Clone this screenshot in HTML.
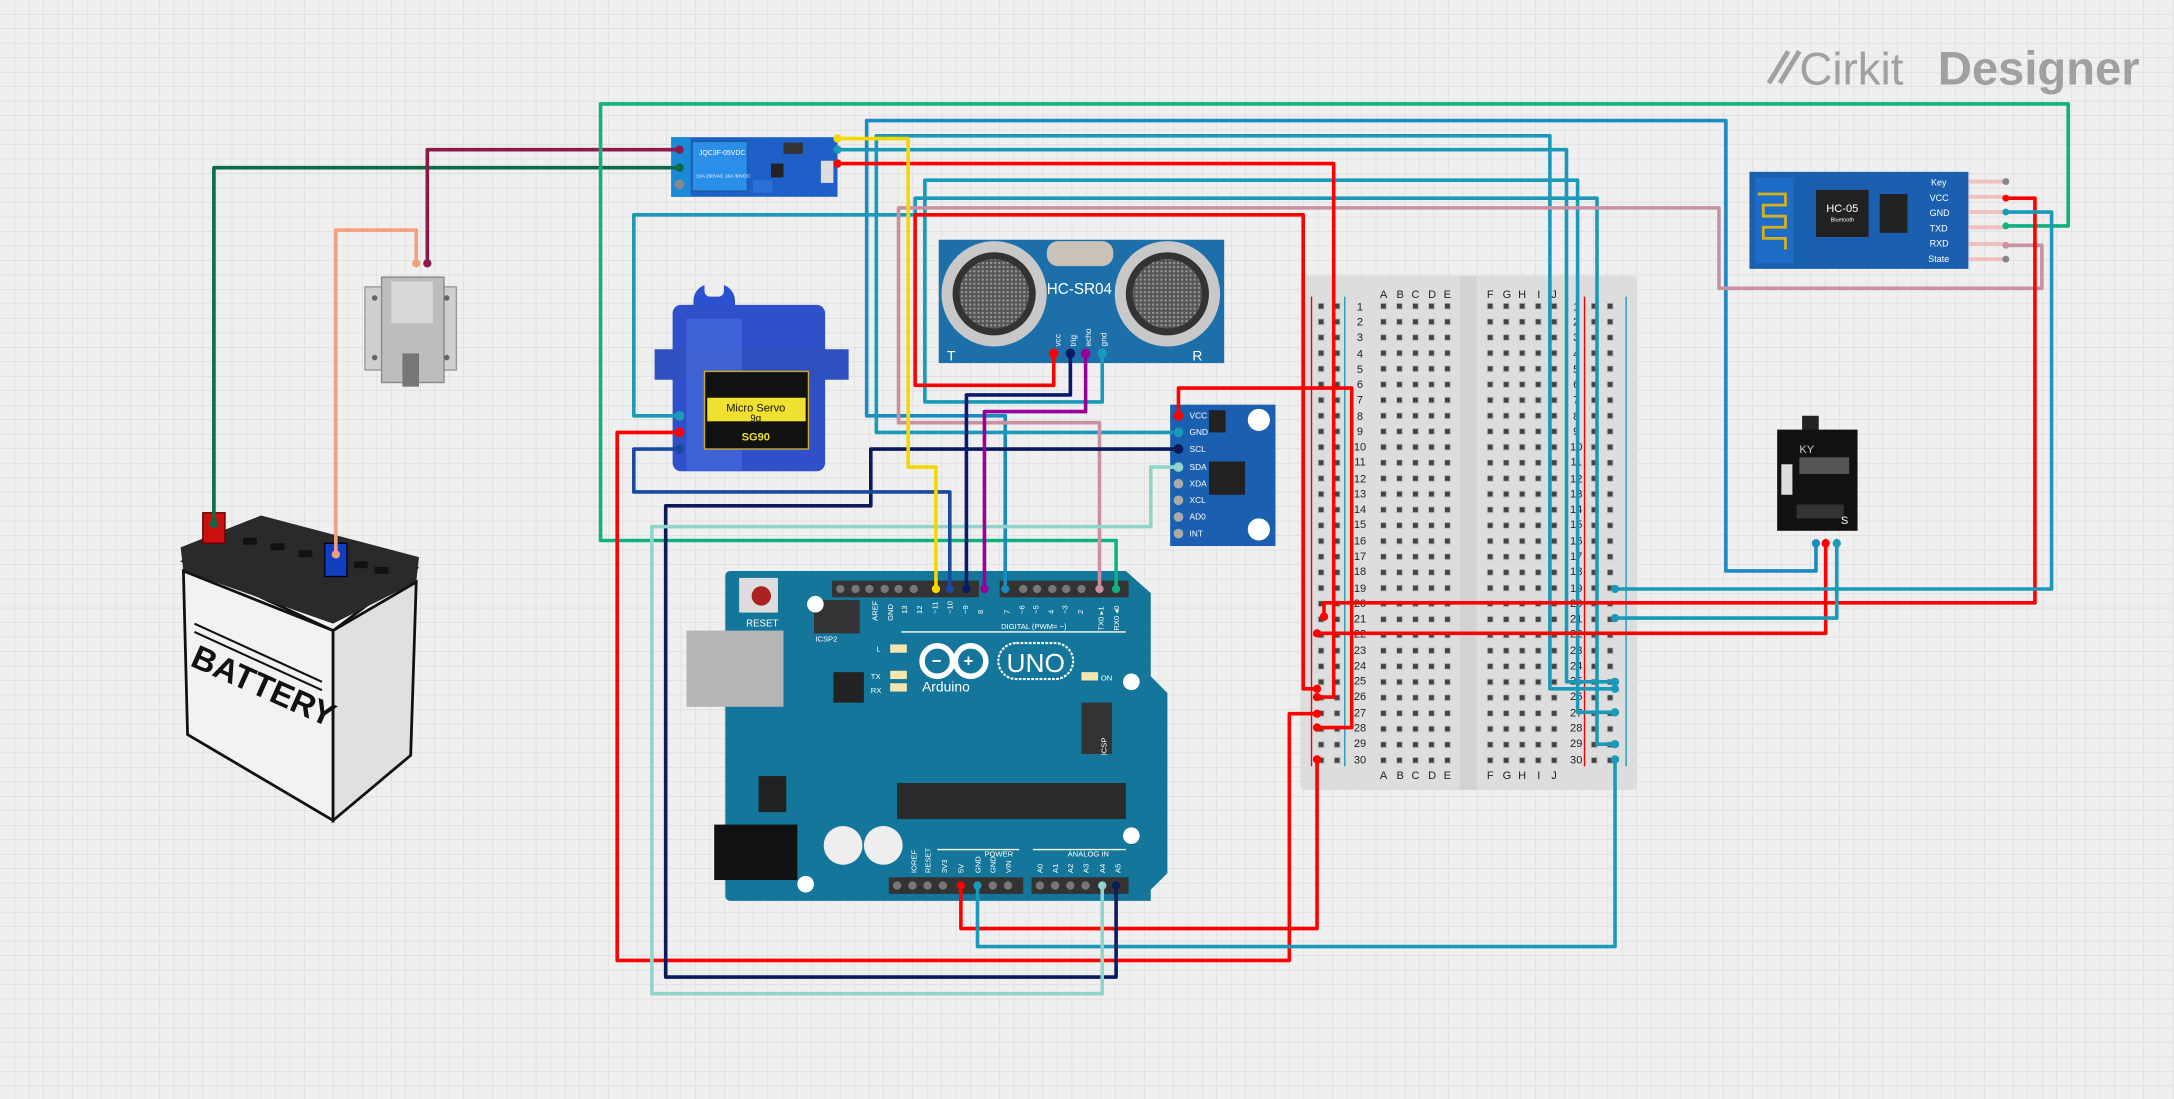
<!DOCTYPE html>
<html><head><meta charset="utf-8"><style>
html,body{margin:0;padding:0;background:#eeeeee;overflow:hidden}
svg{display:block}
text{font-family:"Liberation Sans",sans-serif}
</style></head><body>
<svg width="2174" height="1099" viewBox="0 0 1568 793" xmlns="http://www.w3.org/2000/svg">
<defs>
<pattern id="grid" width="10.45" height="10.45" patternUnits="userSpaceOnUse">
<rect width="10.45" height="10.45" fill="#efefef"/>
<path d="M10.45 0V10.45H0" fill="none" stroke="#d6d6d6" stroke-width="0.7"/>
</pattern>
<pattern id="holes" x="0" y="0" width="11.55" height="11.3" patternUnits="userSpaceOnUse">
<rect x="3.2" y="3.1" width="5" height="5" fill="#c8c8c8"/>
<rect x="3.8" y="3.7" width="3.6" height="3.6" fill="#444"/>
</pattern>
<pattern id="mesh" width="3" height="3" patternUnits="userSpaceOnUse">
<rect width="3" height="3" fill="#555"/><rect width="1.5" height="1.5" fill="#999"/>
</pattern>
</defs>
<rect width="1568" height="793" fill="url(#grid)"/>

<!-- logo -->
<text x="1298" y="61" font-size="33" fill="#a0a0a0">Cirkit</text>
<text x="1398" y="61" font-size="34" font-weight="bold" fill="#a0a0a0">Designer</text>
<path d="M1276 60 L1290 37 M1284 60 L1298 37" stroke="#a0a0a0" stroke-width="3.5"/>

<!-- Breadboard -->
<rect x="938" y="199" width="243" height="371" rx="4" fill="#dddddd"/>
<rect x="1053" y="199" width="12" height="371" fill="#d3d3d3"/>
<g transform="translate(947.3,215.4)"><rect width="23.1" height="339" fill="url(#holes)"/></g>
<g transform="translate(992.3,215.4)"><rect width="57.75" height="339" fill="url(#holes)"/></g>
<g transform="translate(1069.3,215.4)"><rect width="57.75" height="339" fill="url(#holes)"/></g>
<g transform="translate(1144.3,215.4)"><rect width="23.1" height="339" fill="url(#holes)"/></g>
<line x1="946" y1="214" x2="946" y2="553" stroke="#e00" stroke-width="1"/>
<line x1="970" y1="214" x2="970" y2="553" stroke="#1a9ab8" stroke-width="1"/>
<line x1="1143" y1="214" x2="1143" y2="553" stroke="#e00" stroke-width="1"/>
<line x1="1173" y1="214" x2="1173" y2="553" stroke="#1a9ab8" stroke-width="1"/>
<g font-family="Liberation Mono" font-size="8" fill="#222" text-anchor="middle">
<text x="998" y="215">A</text><text x="1010" y="215">B</text><text x="1021" y="215">C</text><text x="1033" y="215">D</text><text x="1044" y="215">E</text>
<text x="1075" y="215">F</text><text x="1087" y="215">G</text><text x="1098" y="215">H</text><text x="1110" y="215">I</text><text x="1121" y="215">J</text>
<text x="998" y="562">A</text><text x="1010" y="562">B</text><text x="1021" y="562">C</text><text x="1033" y="562">D</text><text x="1044" y="562">E</text>
<text x="1075" y="562">F</text><text x="1087" y="562">G</text><text x="1098" y="562">H</text><text x="1110" y="562">I</text><text x="1121" y="562">J</text>
</g>
<g font-family="Liberation Sans" font-size="8" fill="#222" text-anchor="middle">
<text x="981" y="224">1</text><text x="981" y="235">2</text><text x="981" y="246">3</text><text x="981" y="258">4</text><text x="981" y="269">5</text><text x="981" y="280">6</text><text x="981" y="291">7</text><text x="981" y="303">8</text><text x="981" y="314">9</text><text x="981" y="325">10</text><text x="981" y="336">11</text><text x="981" y="348">12</text><text x="981" y="359">13</text><text x="981" y="370">14</text><text x="981" y="381">15</text><text x="981" y="393">16</text><text x="981" y="404">17</text><text x="981" y="415">18</text><text x="981" y="427">19</text><text x="981" y="438">20</text><text x="981" y="449">21</text><text x="981" y="460">22</text><text x="981" y="472">23</text><text x="981" y="483">24</text><text x="981" y="494">25</text><text x="981" y="505">26</text><text x="981" y="517">27</text><text x="981" y="528">28</text><text x="981" y="539">29</text><text x="981" y="551">30</text>
<text x="1137" y="224">1</text><text x="1137" y="235">2</text><text x="1137" y="246">3</text><text x="1137" y="258">4</text><text x="1137" y="269">5</text><text x="1137" y="280">6</text><text x="1137" y="291">7</text><text x="1137" y="303">8</text><text x="1137" y="314">9</text><text x="1137" y="325">10</text><text x="1137" y="336">11</text><text x="1137" y="348">12</text><text x="1137" y="359">13</text><text x="1137" y="370">14</text><text x="1137" y="381">15</text><text x="1137" y="393">16</text><text x="1137" y="404">17</text><text x="1137" y="415">18</text><text x="1137" y="427">19</text><text x="1137" y="438">20</text><text x="1137" y="449">21</text><text x="1137" y="460">22</text><text x="1137" y="472">23</text><text x="1137" y="483">24</text><text x="1137" y="494">25</text><text x="1137" y="505">26</text><text x="1137" y="517">27</text><text x="1137" y="528">28</text><text x="1137" y="539">29</text><text x="1137" y="551">30</text>
</g>

<!-- Battery -->
<g>
<polygon points="132,405 190,380 300,410 240,455" fill="#f4f4f4" stroke="#111" stroke-width="2"/>
<polygon points="130,395 188,372 302,402 300,420 240,450 132,412" fill="#2a2a2a"/>
<polygon points="132,412 240,455 240,592 135,530" fill="#f2f2f2" stroke="#111" stroke-width="2"/>
<polygon points="240,455 300,420 296,545 240,592" fill="#e0e0e0" stroke="#111" stroke-width="2"/>
<rect x="146" y="370" width="16" height="22" fill="#cc1010" stroke="#600" stroke-width="1"/>
<rect x="234" y="392" width="16" height="24" fill="#1040c0" stroke="#002" stroke-width="1"/>
<g fill="#111"><rect x="175" y="388" width="10" height="5"/><rect x="195" y="392" width="10" height="5"/><rect x="215" y="397" width="10" height="5"/><rect x="255" y="405" width="10" height="5"/><rect x="270" y="409" width="10" height="5"/></g>
<text x="136" y="480" font-family="Liberation Serif" font-weight="bold" font-size="24" fill="#111" transform="rotate(24 136 480)">BATTERY</text>
<line x1="140" y1="450" x2="232" y2="492" stroke="#111" stroke-width="1.5"/>
<line x1="140" y1="456" x2="232" y2="498" stroke="#111" stroke-width="1.5"/>
</g>

<!-- Solenoid lock -->
<g>
<rect x="263" y="207" width="66" height="60" fill="#cfcfcf" stroke="#999"/>
<rect x="275" y="200" width="45" height="76" fill="#bdbdbd" stroke="#888"/>
<rect x="282" y="203" width="30" height="30" fill="#d8d8d8"/>
<rect x="290" y="255" width="12" height="24" fill="#777"/>
<circle cx="270" cy="215" r="2" fill="#666"/><circle cx="322" cy="215" r="2" fill="#666"/><circle cx="270" cy="258" r="2" fill="#666"/><circle cx="322" cy="258" r="2" fill="#666"/>
</g>

<!-- Relay -->
<g>
<rect x="484" y="99" width="120" height="43" fill="#1f60c8"/>
<rect x="484" y="99" width="14" height="43" fill="#1a8ad8"/>
<rect x="499" y="102" width="40" height="36" fill="#2b8ee8" stroke="#1a5aa0"/>
<text x="504" y="112" font-size="5" fill="#fff">JQC3F-05VDC</text>
<text x="502" y="128" font-size="3.5" fill="#fff">10A 250VAC 10A 30VDC</text>
<rect x="565" y="103" width="14" height="8" fill="#333"/>
<rect x="556" y="118" width="9" height="10" fill="#222"/>
<rect x="592" y="116" width="9" height="16" fill="#ddd"/>
<rect x="543" y="130" width="14" height="9" fill="#2a70d8"/>
<circle cx="490" cy="133" r="3.5" fill="#888"/>
</g>

<!-- Servo -->
<g>
<rect x="500" y="205" width="30" height="30" rx="12" fill="#2a52d0"/>
<rect x="508" y="200" width="14" height="14" rx="4" fill="#eee"/>
<rect x="485" y="220" width="110" height="120" rx="6" fill="#2f50c8"/>
<rect x="472" y="252" width="140" height="22" fill="#3050c0"/>
<rect x="495" y="230" width="40" height="110" fill="#4a70e0" opacity="0.6"/>
<rect x="508" y="268" width="75" height="56" fill="#111" stroke="#ccaa30"/>
<rect x="510" y="287" width="71" height="17" fill="#f0e030"/>
<text x="545" y="297" font-size="8" text-anchor="middle" fill="#111" font-family="Liberation Mono">Micro Servo</text>
<text x="545" y="304" font-size="7" text-anchor="middle" fill="#111">9g</text>
<text x="545" y="318" font-size="8" text-anchor="middle" fill="#f0e030" font-family="Liberation Serif" font-weight="bold">SG90</text>
</g>

<!-- HC-SR04 -->
<g>
<rect x="677" y="173" width="206" height="89" fill="#1c6fa8"/>
<rect x="755" y="174" width="48" height="18" rx="8" fill="#c9c2b8"/>
<circle cx="717" cy="212" r="38" fill="#c8c8c8"/><circle cx="717" cy="212" r="30" fill="#333"/><circle cx="717" cy="212" r="25" fill="url(#mesh)"/>
<circle cx="842" cy="212" r="38" fill="#c8c8c8"/><circle cx="842" cy="212" r="30" fill="#333"/><circle cx="842" cy="212" r="25" fill="url(#mesh)"/>
<text x="755" y="212" font-size="11" fill="#fff">HC-SR04</text>
<text x="683" y="260" font-size="10" fill="#fff">T</text><text x="860" y="260" font-size="10" fill="#fff">R</text>
<g font-size="6" fill="#fff"><text transform="translate(765,250) rotate(-90)">vcc</text><text transform="translate(776,250) rotate(-90)">trig</text><text transform="translate(787,250) rotate(-90)">echo</text><text transform="translate(798,250) rotate(-90)">gnd</text></g>
</g>

<!-- MPU6050 -->
<g>
<rect x="844" y="292" width="76" height="102" fill="#1a5fb0"/>
<circle cx="908" cy="303" r="8" fill="#fff"/><circle cx="908" cy="382" r="8" fill="#fff"/>
<rect x="872" y="333" width="26" height="24" fill="#222"/>
<rect x="872" y="296" width="12" height="16" fill="#222"/>
<g font-size="6" fill="#fff">
<text x="858" y="302">VCC</text><text x="858" y="314">GND</text><text x="858" y="326">SCL</text><text x="858" y="339">SDA</text><text x="858" y="351">XDA</text><text x="858" y="363">XCL</text><text x="858" y="375">AD0</text><text x="858" y="387">INT</text>
</g>
<g fill="#aaa"><circle cx="850" cy="349" r="3.5"/><circle cx="850" cy="361" r="3.5"/><circle cx="850" cy="373" r="3.5"/><circle cx="850" cy="385" r="3.5"/></g>
</g>

<!-- HC-05 -->
<g>
<rect x="1262" y="124" width="158" height="70" fill="#1a5fb0"/>
<rect x="1266" y="128" width="28" height="62" fill="#1d6cc8"/>
<path d="M1268 140 h20 v8 h-16 v8 h16 v8 h-16 v8 h16 v8" fill="none" stroke="#d4b020" stroke-width="2"/>
<rect x="1310" y="137" width="38" height="34" fill="#222"/>
<text x="1329" y="153" font-size="8" text-anchor="middle" fill="#fff">HC-05</text>
<text x="1329" y="160" font-size="4" text-anchor="middle" fill="#fff">Bluetooth</text>
<rect x="1356" y="140" width="20" height="28" fill="#222"/>
<g font-size="6.5" fill="#fff"><text x="1393" y="134">Key</text><text x="1392" y="145">VCC</text><text x="1392" y="156">GND</text><text x="1392" y="167">TXD</text><text x="1392" y="178">RXD</text><text x="1391" y="189">State</text></g>
<g stroke="#f0c0c0" stroke-width="3"><line x1="1420" y1="131" x2="1447" y2="131"/><line x1="1420" y1="142" x2="1447" y2="142"/><line x1="1420" y1="153" x2="1447" y2="153"/><line x1="1420" y1="164" x2="1447" y2="164"/><line x1="1420" y1="176" x2="1447" y2="176"/><line x1="1420" y1="187" x2="1447" y2="187"/></g>
<circle cx="1447" cy="131" r="2.5" fill="#888"/><circle cx="1447" cy="187" r="2.5" fill="#888"/>
</g>

<!-- KY sensor -->
<g>
<rect x="1300" y="300" width="12" height="12" fill="#222"/>
<rect x="1282" y="310" width="58" height="73" fill="#111"/>
<text x="1298" y="327" font-size="8" fill="#ccc">KY</text>
<rect x="1298" y="330" width="36" height="12" fill="#555"/>
<rect x="1285" y="335" width="8" height="22" fill="#ddd"/>
<rect x="1296" y="364" width="34" height="10" fill="#333"/>
<text x="1328" y="378" font-size="8" fill="#fff">S</text>
</g>

<!-- Arduino -->
<g>
<path d="M527 412 H812 L830 428 V488 L842 500 V630 L830 642 V650 H527 Q523 650 523 646 V416 Q523 412 527 412Z" fill="#13769a"/>
<rect x="533" y="417" width="28" height="25" fill="#ddd"/><circle cx="549" cy="430" r="7" fill="#a22"/>
<text x="538" y="452" font-size="7" fill="#fff">RESET</text>
<rect x="495" y="455" width="70" height="55" fill="#b5b5b5"/>
<rect x="515" y="595" width="60" height="40" fill="#111"/>
<rect x="601" y="485" width="22" height="22" fill="#222"/>
<rect x="547" y="560" width="20" height="26" fill="#222"/>
<circle cx="608" cy="610" r="14" fill="#eee"/><circle cx="637" cy="610" r="14" fill="#eee"/>
<rect x="647" y="565" width="165" height="26" fill="#2a2a2a"/>
<rect x="600" y="419" width="106" height="12" fill="#333"/>
<rect x="721" y="419" width="93" height="12" fill="#333"/>
<rect x="641" y="633" width="97" height="12" fill="#333"/>
<rect x="744" y="633" width="70" height="12" fill="#333"/>
<rect x="780" y="507" width="22" height="37" fill="#333"/>
<rect x="587" y="433" width="33" height="24" fill="#333"/>
<g fill="#777">
<circle cx="606" cy="425" r="3"/><circle cx="617" cy="425" r="3"/><circle cx="627" cy="425" r="3"/><circle cx="638" cy="425" r="3"/><circle cx="648" cy="425" r="3"/><circle cx="659" cy="425" r="3"/>
<circle cx="738" cy="425" r="3"/><circle cx="748" cy="425" r="3"/><circle cx="759" cy="425" r="3"/><circle cx="769" cy="425" r="3"/><circle cx="780" cy="425" r="3"/>
<circle cx="647" cy="639" r="3"/><circle cx="658" cy="639" r="3"/><circle cx="669" cy="639" r="3"/><circle cx="680" cy="639" r="3"/><circle cx="716" cy="639" r="3"/><circle cx="727" cy="639" r="3"/>
<circle cx="750" cy="639" r="3"/><circle cx="761" cy="639" r="3"/><circle cx="772" cy="639" r="3"/><circle cx="783" cy="639" r="3"/>
</g>
<circle cx="588" cy="436" r="6" fill="#fff"/><circle cx="816" cy="492" r="6" fill="#fff"/><circle cx="816" cy="603" r="6" fill="#fff"/><circle cx="581" cy="638" r="6" fill="#fff"/>
<line x1="650" y1="456" x2="812" y2="456" stroke="#fff" stroke-width="1"/>
<text x="722" y="454" font-size="5.5" fill="#fff">DIGITAL (PWM= ~)</text>
<g font-size="5.5" fill="#fff">
<text transform="translate(633,448) rotate(-90)">AREF</text><text transform="translate(644,448) rotate(-90)">GND</text><text transform="translate(654,443) rotate(-90)">13</text><text transform="translate(665,443) rotate(-90)">12</text><text transform="translate(676,443) rotate(-90)">~11</text><text transform="translate(687,443) rotate(-90)">~10</text><text transform="translate(698,443) rotate(-90)">~9</text><text transform="translate(709,443) rotate(-90)">8</text>
<text transform="translate(728,443) rotate(-90)">7</text><text transform="translate(739,443) rotate(-90)">~6</text><text transform="translate(749,443) rotate(-90)">~5</text><text transform="translate(760,443) rotate(-90)">4</text><text transform="translate(770,443) rotate(-90)">~3</text><text transform="translate(781,443) rotate(-90)">2</text><text transform="translate(796,455) rotate(-90)">TX0 ▸1</text><text transform="translate(807,455) rotate(-90)">RX0 ◂0</text>
<text x="588" y="463">ICSP2</text><text x="632" y="470">L</text><text x="628" y="490">TX</text><text x="628" y="500">RX</text><text x="794" y="491">ON</text>
<text x="710" y="618">POWER</text><text x="770" y="618">ANALOG IN</text>
<text transform="translate(661,630) rotate(-90)">IOREF</text><text transform="translate(671,630) rotate(-90)">RESET</text><text transform="translate(683,630) rotate(-90)">3V3</text><text transform="translate(695,630) rotate(-90)">5V</text><text transform="translate(707,630) rotate(-90)">GND</text><text transform="translate(718,630) rotate(-90)">GND</text><text transform="translate(729,630) rotate(-90)">VIN</text>
<text transform="translate(752,630) rotate(-90)">A0</text><text transform="translate(763,630) rotate(-90)">A1</text><text transform="translate(774,630) rotate(-90)">A2</text><text transform="translate(785,630) rotate(-90)">A3</text><text transform="translate(797,630) rotate(-90)">A4</text><text transform="translate(808,630) rotate(-90)">A5</text>
<text transform="translate(798,545) rotate(-90)">ICSP</text>
</g>
<rect x="642" y="465" width="12" height="6" fill="#f5e6b0"/><rect x="642" y="484" width="12" height="6" fill="#f5e6b0"/><rect x="642" y="493" width="12" height="6" fill="#f5e6b0"/><rect x="780" y="485" width="12" height="6" fill="#f5e6b0"/>
<g fill="none" stroke="#fff" stroke-width="4"><circle cx="676" cy="477" r="11"/><circle cx="700" cy="477" r="11"/></g>
<text x="672" y="481" font-size="12" fill="#fff" font-weight="bold">−</text><text x="695" y="481" font-size="12" fill="#fff" font-weight="bold">+</text>
<rect x="720" y="464" width="54" height="26" rx="13" fill="none" stroke="#fff" stroke-width="1.5" stroke-dasharray="2 1"/>
<text x="747" y="485" font-size="19" text-anchor="middle" fill="#fff">UNO</text>
<text x="665" y="499" font-size="10" fill="#fff">Arduino</text>
<line x1="676" y1="613" x2="735" y2="613" stroke="#fff"/><line x1="745" y1="613" x2="812" y2="613" stroke="#fff"/>
</g>

<!-- Wires -->
<g fill="none" stroke-width="2.6" stroke-linejoin="round" stroke-linecap="round">
<path d="M154 378 V121 H490" stroke="#0a6b45"/>
<path d="M308 190 V108 H490" stroke="#8b1a4a"/>
<path d="M242 400 V166 H300 V190" stroke="#f4a080"/>
<path d="M805 425 V390 H433 V75 H1492 V163 H1447" stroke="#10b080"/>
<path d="M725 425 V300 H625 V87 H1245 V412 H1310 V392" stroke="#1a8ac0"/>
<path d="M604 108 H1130 V492 H1165" stroke="#1a9ab8"/>
<path d="M845 312 H632 V98 H1118 V497 H1165" stroke="#1a9ab8"/>
<path d="M795 255 V290 H667 V130 H1138 V514 H1165" stroke="#1a9ab8"/>
<path d="M490 300 H457 V155 H660 V143 H1152 V537 H1165" stroke="#1a9ab8"/>
<path d="M793 425 V305 H648 V150 H1240 V208 H1473 V177 H1447" stroke="#c890a0"/>
<path d="M760 255 V278 H660 V155 H940 V497 H950" stroke="#f00"/>
<path d="M604 118 H962 V503 H950" stroke="#f00"/>
<path d="M850 300 V280 H975 V525 H950" stroke="#f00"/>
<path d="M1447 143 H1468 V435 H955 V445" stroke="#f00"/>
<path d="M1317 390 V457 H950" stroke="#f00"/>
<path d="M490 312 H445 V693 H930 V515 H950" stroke="#f00"/>
<path d="M693 639 V670 H950 V548" stroke="#f00"/>
<path d="M705 639 V683 H1165 V548" stroke="#1a9ab8"/>
<path d="M850 324 H628 V365 H480 V705 H805 V639" stroke="#0a1a5a"/>
<path d="M850 337 H830 V380 H470 V717 H795 V639" stroke="#90d4cc"/>
<path d="M490 324 H457 V355 H685 V425" stroke="#1a4aa0"/>
<path d="M604 100 H655 V337 H675 V425" stroke="#f5d800"/>
<path d="M772 255 V285 H697 V425" stroke="#0a1a6a"/>
<path d="M783 255 V297 H710 V425" stroke="#990099"/>
<path d="M1447 153 H1480 V425 H1165" stroke="#1a9ab8"/>
<path d="M1325 390 V446 H1165" stroke="#1a9ab8"/>
</g>
<!-- pin dots -->
<g>
<circle cx="490" cy="108" r="3" fill="#8b1a4a"/><circle cx="490" cy="121" r="3" fill="#0a6b45"/>
<circle cx="604" cy="100" r="3" fill="#f5d800"/><circle cx="604" cy="108" r="3" fill="#1a9ab8"/><circle cx="604" cy="118" r="3" fill="#f00"/>
<circle cx="490" cy="300" r="3.5" fill="#1a9ab8"/><circle cx="490" cy="312" r="3.5" fill="#f00"/><circle cx="490" cy="324" r="3.5" fill="#1a4aa0"/>
<circle cx="760" cy="255" r="3.5" fill="#f00"/><circle cx="772" cy="255" r="3.5" fill="#0a1a6a"/><circle cx="783" cy="255" r="3.5" fill="#990099"/><circle cx="795" cy="255" r="3.5" fill="#1a9ab8"/>
<circle cx="850" cy="300" r="3.5" fill="#f00"/><circle cx="850" cy="312" r="3.5" fill="#1a9ab8"/><circle cx="850" cy="324" r="3.5" fill="#0a1a5a"/><circle cx="850" cy="337" r="3.5" fill="#90d4cc"/>
<circle cx="675" cy="425" r="3" fill="#f5d800"/><circle cx="685" cy="425" r="3" fill="#1a4aa0"/><circle cx="697" cy="425" r="3" fill="#0a1a6a"/><circle cx="710" cy="425" r="3" fill="#990099"/><circle cx="725" cy="425" r="3" fill="#1a8ac0"/><circle cx="793" cy="425" r="3" fill="#c890a0"/><circle cx="805" cy="425" r="3" fill="#10b080"/>
<circle cx="693" cy="639" r="3" fill="#f00"/><circle cx="705" cy="639" r="3" fill="#1a9ab8"/><circle cx="795" cy="639" r="3" fill="#90d4cc"/><circle cx="805" cy="639" r="3" fill="#0a1a5a"/>
<circle cx="1447" cy="143" r="2.5" fill="#f00"/><circle cx="1447" cy="153" r="2.5" fill="#1a9ab8"/><circle cx="1447" cy="163" r="2.5" fill="#10b080"/><circle cx="1447" cy="177" r="2.5" fill="#c890a0"/>
<circle cx="1310" cy="392" r="3" fill="#1a8ac0"/><circle cx="1317" cy="392" r="3" fill="#f00"/><circle cx="1325" cy="392" r="3" fill="#1a9ab8"/>
<circle cx="154" cy="378" r="3" fill="#0a6b45"/><circle cx="242" cy="400" r="3" fill="#f4a080"/><circle cx="300" cy="190" r="3" fill="#f4a080"/><circle cx="308" cy="190" r="3" fill="#8b1a4a"/>
<g fill="#f00"><circle cx="955" cy="445" r="3"/><circle cx="950" cy="457" r="3"/><circle cx="950" cy="497" r="3"/><circle cx="950" cy="503" r="3"/><circle cx="950" cy="515" r="3"/><circle cx="950" cy="525" r="3"/><circle cx="950" cy="548" r="3"/></g>
<g fill="#1a9ab8"><circle cx="1165" cy="425" r="3"/><circle cx="1165" cy="446" r="3"/><circle cx="1165" cy="492" r="3"/><circle cx="1165" cy="497" r="3"/><circle cx="1165" cy="514" r="3"/><circle cx="1165" cy="537" r="3"/><circle cx="1165" cy="548" r="3"/></g>
</g>
</svg>
</body></html>
